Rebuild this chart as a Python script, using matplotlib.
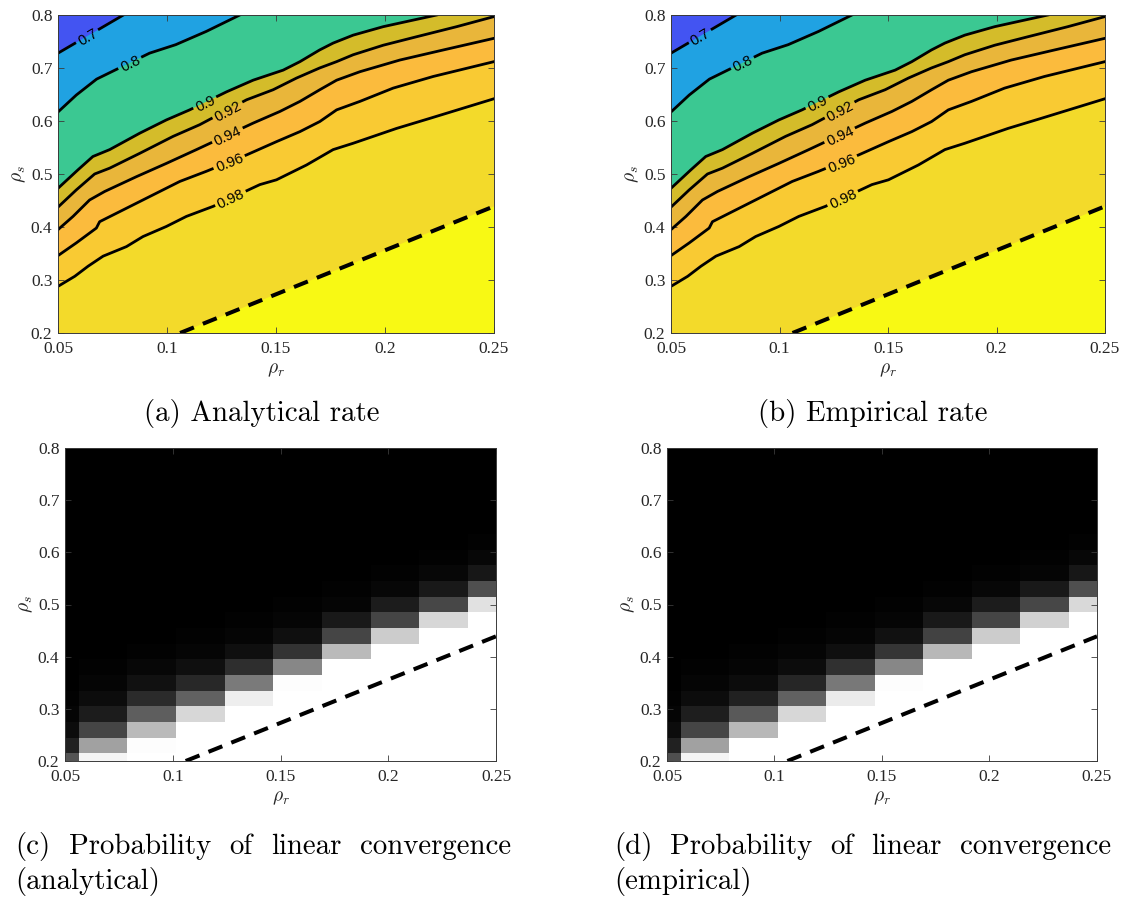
import numpy as np
import matplotlib
matplotlib.use('Agg')
import matplotlib.pyplot as plt

plt.rcParams['mathtext.fontset'] = 'cm'

W, H = 1124, 897

# ---------------- data: convergence-rate contours (panels a, b) ----------------
levels = [0.7, 0.8, 0.9, 0.92, 0.94, 0.96, 0.98, 1.0]
level_labels = ['0.7', '0.8', '0.9', '0.92', '0.94', '0.96', '0.98', None]
band_colors = ['#4354F2', '#20A2E2', '#3BC892', '#D4BC2A', '#E9B63A',
               '#FBBB3D', '#F9CA33', '#F3DA2A', '#F8F914']

c070_x = [0.05, 0.0800]
c070_y = [0.728, 0.800]
c080_x = [0.05, 0.0584, 0.0677, 0.0920, 0.1040, 0.1180, 0.1334]
c080_y = [0.617, 0.649, 0.679, 0.728, 0.744, 0.769, 0.800]
c090_x = [0.05, 0.0592, 0.0660, 0.0737, 0.0875, 0.0997, 0.1104, 0.1273, 0.1395,
          0.1533, 0.1610, 0.1700, 0.1762, 0.1854, 0.1992, 0.2114, 0.2237]
c090_y = [0.473, 0.508, 0.533, 0.546, 0.577, 0.602, 0.621, 0.655, 0.677,
          0.696, 0.712, 0.734, 0.747, 0.762, 0.778, 0.789, 0.800]
c092_x = [0.05, 0.0584, 0.0668, 0.0737, 0.0875, 0.1028, 0.1150, 0.1365, 0.1487,
          0.1594, 0.1700, 0.1778, 0.1854, 0.1992, 0.2145, 0.2329, 0.25]
c092_y = [0.4375, 0.470, 0.500, 0.511, 0.539, 0.571, 0.593, 0.640, 0.659,
          0.681, 0.700, 0.712, 0.725, 0.743, 0.759, 0.778, 0.797]
c094_x = [0.05, 0.0569, 0.0645, 0.0714, 0.0860, 0.0997, 0.1135, 0.1395, 0.1518,
          0.1610, 0.1701, 0.1778, 0.1885, 0.2068, 0.2267, 0.25]
c094_y = [0.395, 0.420, 0.451, 0.467, 0.495, 0.520, 0.546, 0.596, 0.618,
          0.637, 0.659, 0.677, 0.693, 0.715, 0.734, 0.756]
c096_x = [0.05, 0.0584, 0.0676, 0.0691, 0.0875, 0.1059, 0.1180, 0.1365, 0.1502,
          0.1610, 0.1701, 0.1778, 0.1885, 0.2037, 0.2221, 0.25]
c096_y = [0.346, 0.370, 0.398, 0.410, 0.448, 0.486, 0.505, 0.536, 0.561,
          0.580, 0.599, 0.621, 0.637, 0.662, 0.684, 0.712]
c098_x = [0.05, 0.0577, 0.0638, 0.0707, 0.0814, 0.0890, 0.0997, 0.1089, 0.1212,
          0.1426, 0.1502, 0.1640, 0.1762, 0.1854, 0.2053, 0.2206, 0.25]
c098_y = [0.288, 0.307, 0.326, 0.345, 0.363, 0.382, 0.401, 0.420, 0.439,
          0.480, 0.489, 0.517, 0.546, 0.558, 0.586, 0.605, 0.642]
# dashed boundary (rate = 1)
c100_x = [0.106, 0.25]
c100_y = [0.200, 0.439]

# label positions (rho_r) along each labelled contour
label_x = [0.0633, 0.0829, 0.1173, 0.1277, 0.1277, 0.1285, 0.1291]

contours_analytical = [(c070_x, c070_y), (c080_x, c080_y), (c090_x, c090_y),
                       (c092_x, c092_y), (c094_x, c094_y), (c096_x, c096_y),
                       (c098_x, c098_y), (c100_x, c100_y)]
contours_empirical = contours_analytical

# ---------------- data: probability of linear convergence (panels c, d) ----------------
col_edges = [0.05, 0.0563, 0.0789, 0.1015, 0.1241, 0.1467, 0.1693, 0.1918,
             0.2144, 0.2370, 0.25]
row_edges = [0.2] + [0.215 + 0.03 * k for k in range(20)] + [0.8]
# each list: probability for rows from rho_s = 0.2 upward (remaining rows are 0)
prob_analytical = [
    [0.33, 0.13, 0.05, 0.02, 0.01],
    [0.96, 0.63, 0.27, 0.11, 0.05, 0.02, 0.01],
    [1.00, 0.99, 0.73, 0.37, 0.17, 0.07, 0.03, 0.01],
    [1.00, 1.00, 1.00, 0.84, 0.38, 0.16, 0.06, 0.02, 0.01],
    [1.00, 1.00, 1.00, 1.00, 0.93, 0.48, 0.18, 0.06, 0.02, 0.01],
    [1.00, 1.00, 1.00, 1.00, 1.00, 0.99, 0.53, 0.20, 0.06, 0.02, 0.01],
    [1.00, 1.00, 1.00, 1.00, 1.00, 1.00, 1.00, 0.73, 0.27, 0.10, 0.02, 0.01],
    [1.00, 1.00, 1.00, 1.00, 1.00, 1.00, 1.00, 1.00, 0.80, 0.27, 0.11, 0.03, 0.01],
    [1.00, 1.00, 1.00, 1.00, 1.00, 1.00, 1.00, 1.00, 1.00, 0.84, 0.28, 0.10, 0.03, 0.01],
    [1.00, 1.00, 1.00, 1.00, 1.00, 1.00, 1.00, 1.00, 1.00, 1.00, 0.88, 0.31, 0.09, 0.03, 0.01],
]
prob_empirical = [
    [0.31, 0.13, 0.05, 0.02, 0.01],
    [0.96, 0.63, 0.27, 0.12, 0.05, 0.02, 0.01],
    [1.00, 1.00, 0.72, 0.35, 0.13, 0.05, 0.02, 0.01],
    [1.00, 1.00, 1.00, 0.84, 0.38, 0.15, 0.05, 0.02, 0.01],
    [1.00, 1.00, 1.00, 1.00, 0.92, 0.47, 0.19, 0.06, 0.02, 0.01],
    [1.00, 1.00, 1.00, 1.00, 1.00, 0.99, 0.53, 0.21, 0.07, 0.02, 0.01],
    [1.00, 1.00, 1.00, 1.00, 1.00, 1.00, 1.00, 0.72, 0.26, 0.10, 0.03, 0.01],
    [1.00, 1.00, 1.00, 1.00, 1.00, 1.00, 1.00, 1.00, 0.80, 0.27, 0.11, 0.03, 0.01],
    [1.00, 1.00, 1.00, 1.00, 1.00, 1.00, 1.00, 1.00, 1.00, 0.82, 0.28, 0.10, 0.02, 0.01],
    [1.00, 1.00, 1.00, 1.00, 1.00, 1.00, 1.00, 1.00, 1.00, 1.00, 0.85, 0.31, 0.09, 0.03, 0.01],
]

xticks = [0.05, 0.1, 0.15, 0.2, 0.25]
xticklabels = ['0.05', '0.1', '0.15', '0.2', '0.25']
yticks = [0.2, 0.3, 0.4, 0.5, 0.6, 0.7, 0.8]
yticklabels = ['0.2', '0.3', '0.4', '0.5', '0.6', '0.7', '0.8']

captions_top = ['(a) Analytical rate', '(b) Empirical rate']
captions_bottom = [(['(c)', 'Probability', 'of', 'linear', 'convergence'], '(analytical)'),
                   (['(d)', 'Probability', 'of', 'linear', 'convergence'], '(empirical)')]

XLIM = (0.05, 0.25)
YLIM = (0.2, 0.8)
AX_COLOR = '#3a3a3a'
TICK_FONT = 'Liberation Serif'
CAP_FONT = 'cmr10'
LABEL_FS = 10.5


def px_rect(x0, y0, x1, y1):
    return [x0 / W, 1 - y1 / H, (x1 - x0) / W, (y1 - y0) / H]


fig = plt.figure(figsize=(W / 100, H / 100), dpi=100)
renderer = fig.canvas.get_renderer()


def style_axes(ax):
    ax.set_xlim(*XLIM)
    ax.set_ylim(*YLIM)
    ax.set_xticks(xticks)
    ax.set_xticklabels(xticklabels)
    ax.set_yticks(yticks)
    ax.set_yticklabels(yticklabels)
    ax.tick_params(direction='in', length=4, width=0.6, color=AX_COLOR,
                   top=True, right=True, labelsize=12.5, labelcolor='#262626')
    ax.tick_params(axis='x', pad=6)
    ax.tick_params(axis='y', pad=4)
    for lab in ax.get_xticklabels() + ax.get_yticklabels():
        lab.set_family(TICK_FONT)
    for sp in ax.spines.values():
        sp.set_color(AX_COLOR)
        sp.set_linewidth(0.7)
        sp.set_zorder(10)
    ax.set_xlabel(r'$\rho_r$', fontsize=14, color='#262626', labelpad=2)
    ax.set_ylabel(r'$\rho_s$', fontsize=14, color='#262626', labelpad=2)


def below_polygon(xs, ys):
    px = list(xs) + [0.25, 0.25, 0.05]
    py = list(ys) + [0.8, 0.2, 0.2]
    return px, py


def draw_labeled_line(ax, xs, ys, text, lx):
    pts = ax.transData.transform(np.column_stack([xs, ys]))
    seg = np.hypot(np.diff(pts[:, 0]), np.diff(pts[:, 1]))
    s = np.concatenate([[0], np.cumsum(seg)])
    s0 = np.interp(lx, xs, s)
    t = ax.text(0, 0, text, fontsize=LABEL_FS, family='Liberation Sans')
    w = t.get_window_extent(renderer).width
    t.remove()
    g = w / 2 + 4
    sa, sb = s0 - g, s0 + g
    pa = np.array([np.interp(sa, s, pts[:, 0]), np.interp(sa, s, pts[:, 1])])
    pb = np.array([np.interp(sb, s, pts[:, 0]), np.interp(sb, s, pts[:, 1])])
    pc = np.array([np.interp(s0, s, pts[:, 0]), np.interp(s0, s, pts[:, 1])])
    left = np.vstack([pts[s < sa], pa])
    right = np.vstack([pb, pts[s > sb]])
    inv = ax.transData.inverted()
    for part in (left, right):
        d = inv.transform(part)
        ax.plot(d[:, 0], d[:, 1], color='black', lw=2.0, zorder=4,
                solid_joinstyle='round')
    ang = np.degrees(np.arctan2(pb[1] - pa[1], pb[0] - pa[0]))
    dc = inv.transform(pc)
    ax.text(dc[0], dc[1], text, fontsize=LABEL_FS, family='Liberation Sans',
            rotation=ang, rotation_mode='anchor', ha='center', va='center_baseline',
            zorder=5)


def rate_panel(rect, contours):
    ax = fig.add_axes(rect)
    style_axes(ax)
    ax.set_facecolor(band_colors[0])
    for i, (xs, ys) in enumerate(contours):
        px, py = below_polygon(xs, ys)
        ax.fill(px, py, color=band_colors[i + 1], lw=0, zorder=1)
    for i, (xs, ys) in enumerate(contours):
        if level_labels[i] is None:
            ax.plot(xs, ys, color='black', lw=2.9, ls=(0, (3.7, 2.4)), zorder=4)
        else:
            draw_labeled_line(ax, xs, ys, level_labels[i], label_x[i])
    return ax


def prob_panel(rect, prob, boundary):
    ax = fig.add_axes(rect)
    style_axes(ax)
    P = np.zeros((len(row_edges) - 1, len(col_edges) - 1))
    for j, col in enumerate(prob):
        P[:len(col), j] = col
    ax.pcolormesh(col_edges, row_edges, P, cmap='gray', vmin=0, vmax=1,
                  shading='flat', zorder=1)
    ax.plot(boundary[0], boundary[1], color='black', lw=2.9,
            ls=(0, (3.7, 2.4)), zorder=4)
    return ax


rate_panel(px_rect(58, 15, 494, 333), contours_analytical)
rate_panel(px_rect(671, 15, 1105, 333), contours_empirical)
prob_panel(px_rect(65, 448, 496, 761), prob_analytical, (c100_x, c100_y))
prob_panel(px_rect(667, 448, 1097, 761), prob_empirical, (c100_x, c100_y))

CAP_FS = 20.8
fig.text(262 / W, 1 - 413 / H, captions_top[0], family=CAP_FONT, fontsize=CAP_FS,
         ha='center', va='center')
fig.text(873 / W, 1 - 413 / H, captions_top[1], family=CAP_FONT, fontsize=CAP_FS,
         ha='center', va='center')


def justified(words, x0, x1, ybase):
    widths = []
    for wd in words:
        t = fig.text(0, 0, wd, family=CAP_FONT, fontsize=CAP_FS)
        widths.append(t.get_window_extent(renderer).width)
        t.remove()
    gap = (x1 - x0 - sum(widths)) / (len(words) - 1)
    x = x0
    for wd, wdt in zip(words, widths):
        fig.text(x / W, 1 - ybase / H, wd, family=CAP_FONT, fontsize=CAP_FS,
                 ha='left', va='baseline')
        x += wdt + gap


justified(captions_bottom[0][0], 15, 511, 854)
fig.text(15 / W, 1 - 889 / H, captions_bottom[0][1], family=CAP_FONT,
         fontsize=CAP_FS, ha='left', va='baseline')
justified(captions_bottom[1][0], 614, 1111, 854)
fig.text(614 / W, 1 - 889 / H, captions_bottom[1][1], family=CAP_FONT,
         fontsize=CAP_FS, ha='left', va='baseline')

fig.savefig('out.png', dpi=100)
